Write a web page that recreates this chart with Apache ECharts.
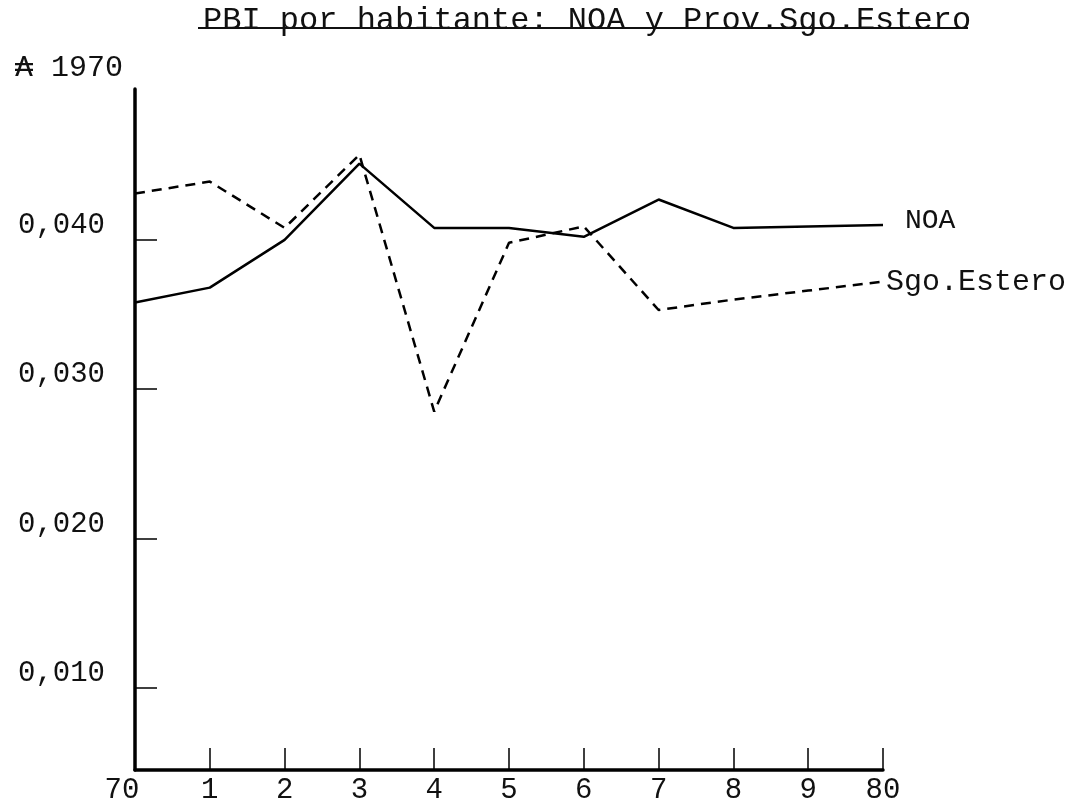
<!DOCTYPE html>
<html>
<head>
<meta charset="utf-8">
<script src="https://cdn.jsdelivr.net/npm/echarts@6/dist/echarts.min.js"></script>
<style>
html,body{margin:0;padding:0;background:#fff;}
#chart{width:1089px;height:808px;}
</style>
</head>
<body>
<div id="chart"></div>
<script>
// ---- data ----
const years = [70, 71, 72, 73, 74, 75, 76, 77, 78, 79, 80];
const xTickLabels = ['70', '1', '2', '3', '4', '5', '6', '7', '8', '9', '80'];
const noaValues = [0.0358, 0.0368, 0.0400, 0.0451, 0.0408, 0.0408, 0.0402, 0.0427, 0.0408, 0.0409, 0.0410];
const sgoValues = [0.0431, 0.0439, 0.0408, 0.0457, 0.0285, 0.0398, 0.0409, 0.0353, 0.0360, 0.0366, 0.0372];
const yTickValues = [0.01, 0.02, 0.03, 0.04];
const yTickLabels = ['0,010', '0,020', '0,030', '0,040'];
const titleText = 'PBI por habitante: NOA y Prov.Sgo.Estero';
const unitText = '\u20B3 1970';
const seriesNames = ['NOA', 'Sgo.Estero'];

const FONT = '"Liberation Mono", "DejaVu Sans Mono", monospace';

const chart = echarts.init(document.getElementById('chart'), null, {renderer: 'canvas'});
const pairs = vals => years.map((y, i) => [y, vals[i]]);

chart.setOption({
  backgroundColor: '#fff',
  animation: false,
  title: [
    {text: titleText, left: 198, top: 0,
     textStyle: {fontFamily: FONT, fontSize: 32, fontWeight: 'normal', color: '#111'}},
    {text: unitText, left: 10, top: 48,
     textStyle: {fontFamily: FONT, fontSize: 30, fontWeight: 'normal', color: '#111'}}
  ],
  graphic: [
    {type: 'line', shape: {x1: 198, y1: 28, x2: 968, y2: 28},
     style: {stroke: '#111', lineWidth: 2}}
  ],
  grid: {left: 135, right: 206, top: 89, bottom: 38, containLabel: false},
  xAxis: {
    type: 'value', min: 70, max: 80, interval: 1,
    axisLine: {show: true, lineStyle: {color: '#000', width: 3.5}},
    axisTick: {show: true, inside: true, length: 22, lineStyle: {color: '#000', width: 1.5}},
    axisLabel: {
      margin: 6, color: '#111', fontFamily: FONT, fontSize: 29,
      formatter: v => {
        const i = Math.round(v) - 70;
        return i === 0 ? '{first|' + xTickLabels[i] + '}' : xTickLabels[i];
      },
      rich: {first: {fontFamily: FONT, fontSize: 29, color: '#111', padding: [0, 26, 0, 0]}}
    },
    splitLine: {show: false}
  },
  yAxis: {
    type: 'value', min: 0.0045, max: 0.0501,
    axisLine: {show: true, lineStyle: {color: '#000', width: 3.5}},
    axisTick: {show: true, inside: true, length: 22, customValues: yTickValues,
               lineStyle: {color: '#000', width: 1.5}},
    axisLabel: {
      customValues: yTickValues, margin: 30, color: '#111', fontFamily: FONT, fontSize: 29,
      verticalAlign: 'bottom',
      formatter: v => yTickLabels[Math.round(v * 100) - 1]
    },
    splitLine: {show: false}
  },
  series: [
    {
      name: seriesNames[0], type: 'line', data: pairs(noaValues), symbol: 'none',
      lineStyle: {color: '#000', width: 2.5, type: 'solid'},
      endLabel: {show: true, formatter: '{a}', distance: 22, color: '#111',
                 fontFamily: FONT, fontSize: 28, offset: [0, -4]}
    },
    {
      name: seriesNames[1], type: 'line', data: pairs(sgoValues), symbol: 'none',
      lineStyle: {color: '#000', width: 2.5, type: [10, 7]},
      endLabel: {show: true, formatter: '{a}', distance: 3, color: '#111',
                 fontFamily: FONT, fontSize: 30}
    }
  ]
});
</script>
</body>
</html>
